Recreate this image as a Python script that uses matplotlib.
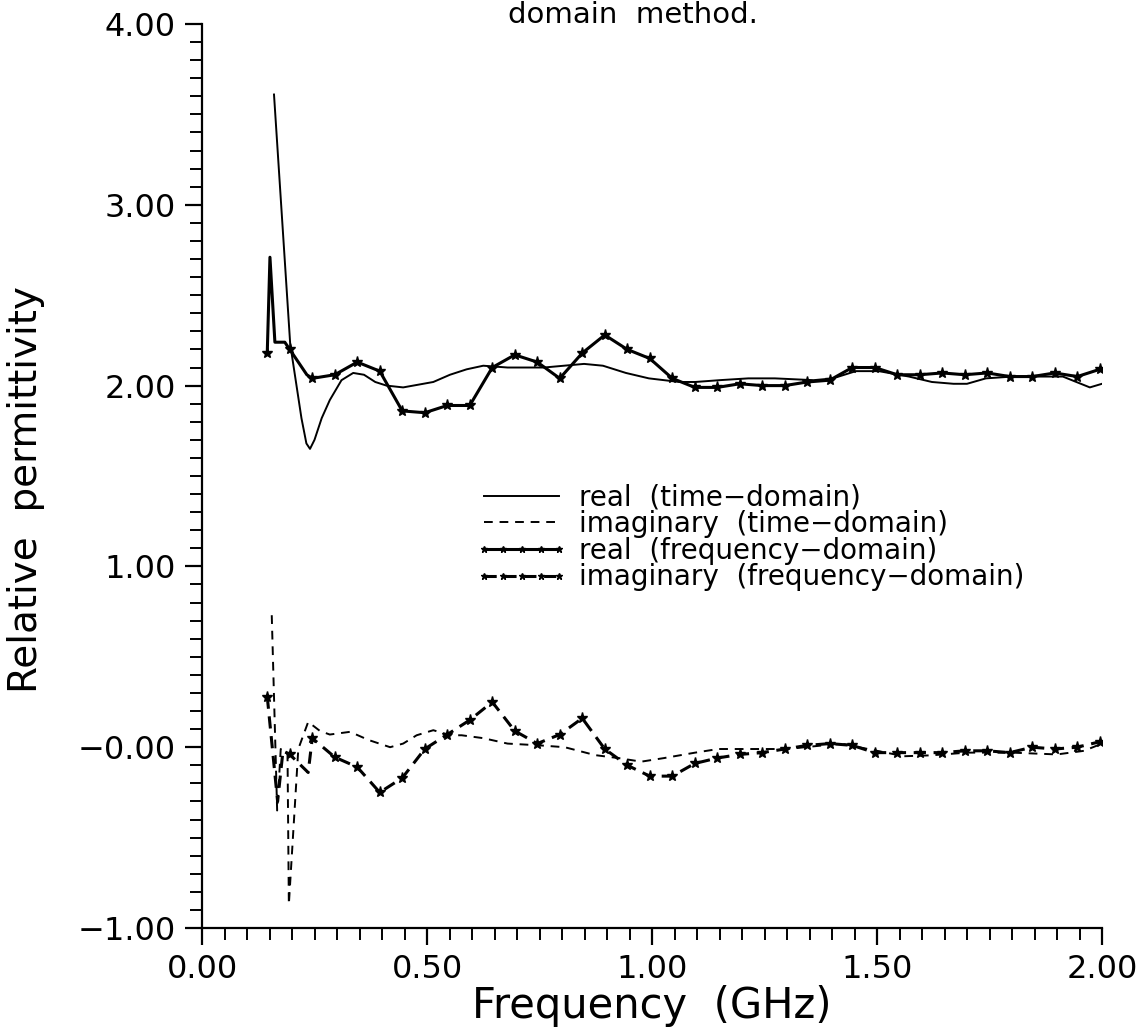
import matplotlib
matplotlib.use("Agg")
import matplotlib.pyplot as plt
from matplotlib.ticker import MultipleLocator

plt.rcParams['font.family'] = ['DejaVu Sans']

# real part, time-domain method (no markers)
td_freq = [0.160, 0.196, 0.221, 0.232, 0.240, 0.250, 0.266, 0.284, 0.310, 0.336,
           0.360, 0.385, 0.410, 0.447, 0.514, 0.551, 0.588, 0.625, 0.679, 0.760,
           0.849, 0.891, 0.942, 0.993, 1.061, 1.096, 1.150, 1.214, 1.273, 1.359,
           1.402, 1.453, 1.504, 1.571, 1.622, 1.670, 1.700, 1.742, 1.801, 1.878,
           1.913, 1.973, 2.000]
td_real = [3.61, 2.23, 1.82, 1.68, 1.65, 1.70, 1.82, 1.92, 2.03, 2.07,
           2.06, 2.02, 2.00, 1.99, 2.02, 2.06, 2.09, 2.11, 2.10, 2.10,
           2.12, 2.11, 2.07, 2.04, 2.02, 2.02, 2.03, 2.04, 2.04, 2.03,
           2.04, 2.08, 2.08, 2.05, 2.02, 2.01, 2.01, 2.04, 2.05, 2.05,
           2.05, 1.99, 2.01]

# imaginary part, time-domain method
td_freq_im = [0.155, 0.167, 0.175, 0.190, 0.193, 0.214, 0.236, 0.262, 0.284, 0.329,
              0.370, 0.418, 0.447, 0.477, 0.514, 0.551, 0.577, 0.625, 0.679, 0.751,
              0.806, 0.874, 0.925, 0.976, 1.027, 1.096, 1.147, 1.198, 1.300, 1.420,
              1.500, 1.560, 1.620, 1.700, 1.800, 1.900, 1.960, 2.000]
td_imag = [0.73, -0.35, -0.01, -0.03, -0.87, -0.01, 0.14, 0.09, 0.07, 0.085,
           0.04, 0.00, 0.02, 0.066, 0.094, 0.066, 0.066, 0.05, 0.02, 0.01,
           0.00, -0.044, -0.06, -0.08, -0.06, -0.03, -0.01, -0.01, -0.01, 0.02,
           -0.02, -0.05, -0.045, -0.03, -0.03, -0.04, -0.02, 0.02]

# frequency-domain method: sampled points (drawn with markers)
fd_freq = [0.145, 0.195, 0.245, 0.295, 0.345, 0.395, 0.445, 0.495, 0.545, 0.595,
           0.645, 0.695, 0.745, 0.795, 0.845, 0.895, 0.945, 0.995, 1.045, 1.095,
           1.145, 1.195, 1.245, 1.295, 1.345, 1.395, 1.445, 1.495, 1.545, 1.595,
           1.645, 1.695, 1.745, 1.795, 1.845, 1.895, 1.945, 1.995]
fd_real = [2.18, 2.20, 2.04, 2.06, 2.13, 2.08, 1.86, 1.85, 1.89, 1.89,
           2.10, 2.17, 2.13, 2.04, 2.18, 2.28, 2.20, 2.15, 2.04, 1.99,
           1.99, 2.01, 2.00, 2.00, 2.02, 2.03, 2.10, 2.10, 2.06, 2.06,
           2.07, 2.06, 2.07, 2.05, 2.05, 2.07, 2.05, 2.09]
fd_imag = [0.28, -0.04, 0.05, -0.055, -0.11, -0.25, -0.17, -0.01, 0.07, 0.15,
           0.25, 0.09, 0.02, 0.07, 0.16, -0.01, -0.10, -0.16, -0.16, -0.09,
           -0.06, -0.04, -0.03, -0.01, 0.01, 0.02, 0.01, -0.03, -0.03, -0.03,
           -0.03, -0.02, -0.02, -0.03, 0.00, -0.01, 0.00, 0.03]

# extra vertices of the frequency-domain curves between the samples
fd_real_extra_f = [0.151, 0.162, 0.184, 0.233]
fd_real_extra_v = [2.71, 2.24, 2.24, 2.06]
fd_imag_extra_f = [0.168, 0.180, 0.236]
fd_imag_extra_v = [-0.30, -0.02, -0.14]


def merge(fx, fy, ex, ey):
    pts = sorted(list(zip(fx, fy)) + list(zip(ex, ey)))
    xs = [p[0] for p in pts]
    ys = [p[1] for p in pts]
    marks = [i for i, x in enumerate(xs) if x in fx]
    return xs, ys, marks


fig = plt.figure(figsize=(11.41, 10.31), dpi=100)
ax = fig.add_axes([202/1141, 1 - 928/1031, 900/1141, (928 - 24)/1031])

ax.plot(td_freq, td_real, color='black', lw=1.4, label='real  (time\u2212domain)')
ax.plot(td_freq_im, td_imag, color='black', lw=1.4, dashes=(4.5, 3.5),
        label='imaginary  (time\u2212domain)')

xr, yr, mr = merge(fd_freq, fd_real, fd_real_extra_f, fd_real_extra_v)
ax.plot(xr, yr, color='black', lw=2.2, marker='*', ms=8, markevery=mr,
        label='real  (frequency\u2212domain)')
xi, yi, mi = merge(fd_freq, fd_imag, fd_imag_extra_f, fd_imag_extra_v)
ax.plot(xi, yi, color='black', lw=2.2, dashes=(4, 2.5), marker='*', ms=8,
        markevery=mi, label='imaginary  (frequency\u2212domain)')

ax.set_xlim(0, 2.0)
ax.set_ylim(-1.0, 4.0)
for s in ['top', 'right']:
    ax.spines[s].set_visible(False)
for s in ['left', 'bottom']:
    ax.spines[s].set_linewidth(1.6)

ax.xaxis.set_minor_locator(MultipleLocator(0.05))
ax.yaxis.set_minor_locator(MultipleLocator(0.1))
ax.set_xticks([0, 0.5, 1.0, 1.5, 2.0])
ax.set_xticklabels(['0.00', '0.50', '1.00', '1.50', '2.00'])
ax.set_yticks([-1, 0, 1, 2, 3, 4])
ax.set_yticklabels(['\u22121.00', '\u22120.00', '1.00', '2.00', '3.00', '4.00'])
ax.tick_params(which='major', direction='out', length=12, width=1.6,
               labelsize=23, pad=7)
ax.tick_params(which='minor', direction='out', length=8.5, width=1.4)

ax.set_xlabel('Frequency  (GHz)', fontsize=30, labelpad=0)
ax.set_ylabel('Relative  permittivity', fontsize=28)
ax.yaxis.set_label_coords(-0.175, 0.485)

leg = ax.legend(loc='upper left', bbox_to_anchor=(0.289, 0.507), frameon=False,
                fontsize=20, handlelength=3.3, handletextpad=0.4,
                labelspacing=-0.05, numpoints=5, markerscale=0.6, borderpad=0)

fig.text(0.555, 0.999, 'domain  method.', ha='center', va='top', fontsize=21)

fig.savefig('out.png', dpi=100)
